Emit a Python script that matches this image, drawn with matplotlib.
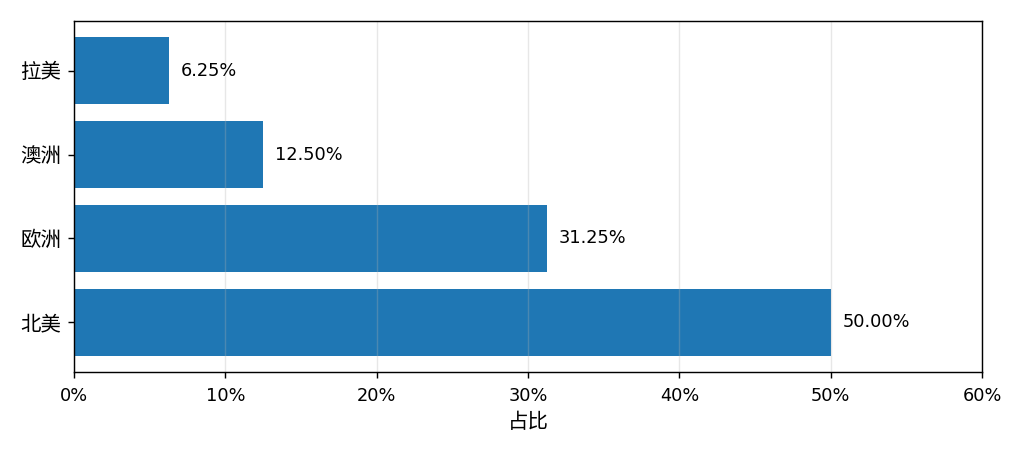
import matplotlib
matplotlib.use("Agg")
import matplotlib.pyplot as plt
from matplotlib.ticker import FuncFormatter

plt.rcParams['font.family'] = ['DejaVu Sans', 'Noto Sans CJK SC']

regions = ["北美", "欧洲", "澳洲", "拉美"]
shares = [50.00, 31.25, 12.50, 6.25]
xlabel = "占比"

fig = plt.figure(figsize=(8, 455/128), dpi=128)
ax = fig.add_axes([74/1024, 1-372/455, (982-74)/1024, (372-21)/455])
ax.barh(regions, shares, height=0.8, color="#1f77b4")
for i, v in enumerate(shares):
    ax.text(v + 0.8, i, f"{v:.2f}%", va="center", ha="left", fontsize=10)
ax.set_xlim(0, 60)
ax.set_xticks(range(0, 61, 10))
ax.xaxis.set_major_formatter(FuncFormatter(lambda x, p: f"{x:.0f}%"))
ax.grid(axis="x", alpha=0.3)
ax.set_xlabel(xlabel, fontsize=11.5, labelpad=4)
ax.tick_params(axis="x", labelsize=10, pad=5.2)
ax.tick_params(axis="y", labelsize=11.5)
fig.savefig("out.png", dpi=128)
